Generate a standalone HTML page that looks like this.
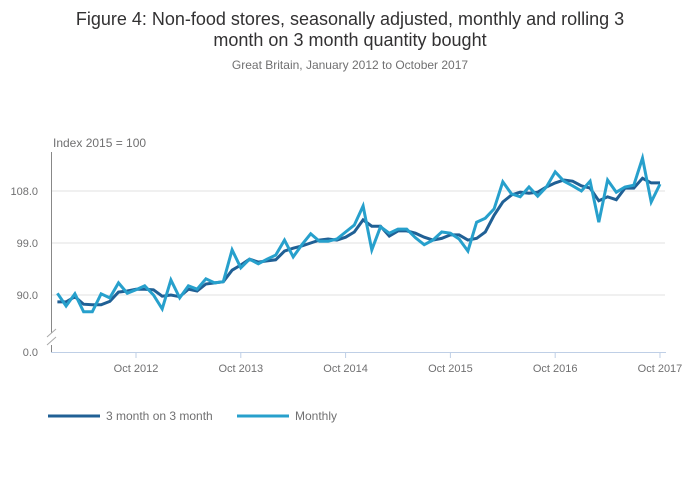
<!DOCTYPE html>
<html><head><meta charset="utf-8">
<style>
body{margin:0;background:#fff;font-family:"Liberation Sans",sans-serif;}
#wrap{position:relative;width:700px;height:502px;overflow:hidden;}
</style></head>
<body>
<div id="wrap">
<svg id="chart" width="700" height="502" xmlns="http://www.w3.org/2000/svg">
  <text x="350" y="25" text-anchor="middle" font-size="18" fill="#323132">Figure 4: Non-food stores, seasonally adjusted, monthly and rolling 3</text>
  <text x="350" y="46" text-anchor="middle" font-size="18" fill="#323132">month on 3 month quantity bought</text>
  <text x="350" y="69" text-anchor="middle" font-size="12" fill="#707071">Great Britain, January 2012 to October 2017</text>
  <text x="53" y="147" font-size="12" fill="#707071">Index 2015 = 100</text>
  <g id="grid"></g>
  <g id="axes"></g>
  <g id="series"></g>
  <g>
    <line x1="48" y1="416" x2="100" y2="416" stroke="#206095" stroke-width="3"/>
    <text x="106" y="420" font-size="12" fill="#707071">3 month on 3 month</text>
    <line x1="237" y1="416" x2="289" y2="416" stroke="#27a0cc" stroke-width="3"/>
    <text x="295" y="420" font-size="12" fill="#707071">Monthly</text>
  </g>
</svg>
</div>
<script>
const yTicks = [90, 99, 108];
const yTickLabels = ["90.0", "99.0", "108.0"];
const xTickIndex = [9, 21, 33, 45, 57, 69];
const xTickLabels = ["Oct 2012", "Oct 2013", "Oct 2014", "Oct 2015", "Oct 2016", "Oct 2017"];
const monthly = [90.3,88.1,90.2,87.1,87.1,90.2,89.5,92.1,90.3,90.9,91.6,90.0,87.6,92.6,89.5,91.6,91.0,92.8,92.1,92.3,97.8,94.7,96.2,95.4,96.2,96.9,99.5,96.6,98.7,100.6,99.3,99.3,99.7,100.9,102.1,105.4,97.8,101.8,100.7,101.4,101.4,99.9,98.7,99.5,100.9,100.7,99.7,97.6,102.6,103.3,104.9,109.6,107.5,107.0,108.7,107.1,108.7,111.3,109.7,108.9,108.0,109.7,102.6,109.9,107.8,108.7,109.0,113.7,106.1,109.2];
const threeMonth = [88.8,88.8,89.7,88.4,88.3,88.3,88.9,90.5,90.7,91.0,91.0,90.9,89.8,90.0,89.7,91.0,90.7,91.9,92.1,92.3,94.3,95.2,96.2,95.7,95.9,96.1,97.6,98.1,98.5,99.0,99.5,99.7,99.5,100.0,100.9,103.0,101.9,101.9,100.2,101.1,101.1,100.7,100.0,99.5,99.8,100.4,100.4,99.5,99.8,100.9,103.8,106.1,107.3,107.8,107.6,107.8,108.7,109.4,109.9,109.7,108.9,108.5,106.3,107.0,106.5,108.5,108.5,110.2,109.4,109.4];

const NS = "http://www.w3.org/2000/svg";
function x(i){ return 57.4 + i * 8.733; }
function y(v){ return 191 + (108 - v) * (52 / 9); }
function mk(tag, attrs, parent){
  const e = document.createElementNS(NS, tag);
  for (const k in attrs) e.setAttribute(k, attrs[k]);
  parent.appendChild(e);
  return e;
}
const grid = document.getElementById('grid');
const axes = document.getElementById('axes');
const series = document.getElementById('series');

yTicks.forEach((v, k) => {
  const l = mk('line', {x1: 52, x2: 665, y1: y(v), y2: y(v), stroke: '#e0e0e0', 'stroke-width': 1}, grid);
  
  
  const t = mk('text', {x: 38, y: y(v) + 4, 'text-anchor': 'end', 'font-size': 11, fill: '#707071'}, grid);
  t.textContent = yTickLabels[k];
  
  
});
const zl = mk('text', {x: 38, y: 356, 'text-anchor': 'end', 'font-size': 11, fill: '#707071'}, grid);
zl.textContent = "0.0";



const ya = mk('path', {d: 'M51.5 152 V333 M51.5 345 V352', stroke: '#888', 'stroke-width': 1, fill: 'none'}, axes);


const br = mk('path', {d: 'M47 337 L56 329 M47 345 L56 337', stroke: '#aaa', 'stroke-width': 1, fill: 'none'}, axes);


const xa = mk('line', {x1: 51, x2: 666, y1: 352.5, y2: 352.5, stroke: '#bfcfe6', 'stroke-width': 1}, axes);


xTickIndex.forEach((i, k) => {
  const tk = mk('line', {x1: x(i), x2: x(i), y1: 352, y2: 358, stroke: '#bfcfe6', 'stroke-width': 1}, axes);
  
  
  const t = mk('text', {x: x(i), y: 372, 'text-anchor': 'middle', 'font-size': 11, fill: '#707071'}, axes);
  t.textContent = xTickLabels[k];
  
  
});

function line(arr, color, name){
  const d = arr.map((v, i) => (i ? 'L' : 'M') + x(i).toFixed(1) + ' ' + y(v).toFixed(1)).join(' ');
  const p = mk('path', {d: d, stroke: color, 'stroke-width': 3, fill: 'none', 'stroke-linejoin': 'miter'}, series);
  
  
}
line(threeMonth, '#206095', 'series-3-month-on-3-month');
line(monthly, '#27a0cc', 'series-monthly');
</script>
</body></html>
